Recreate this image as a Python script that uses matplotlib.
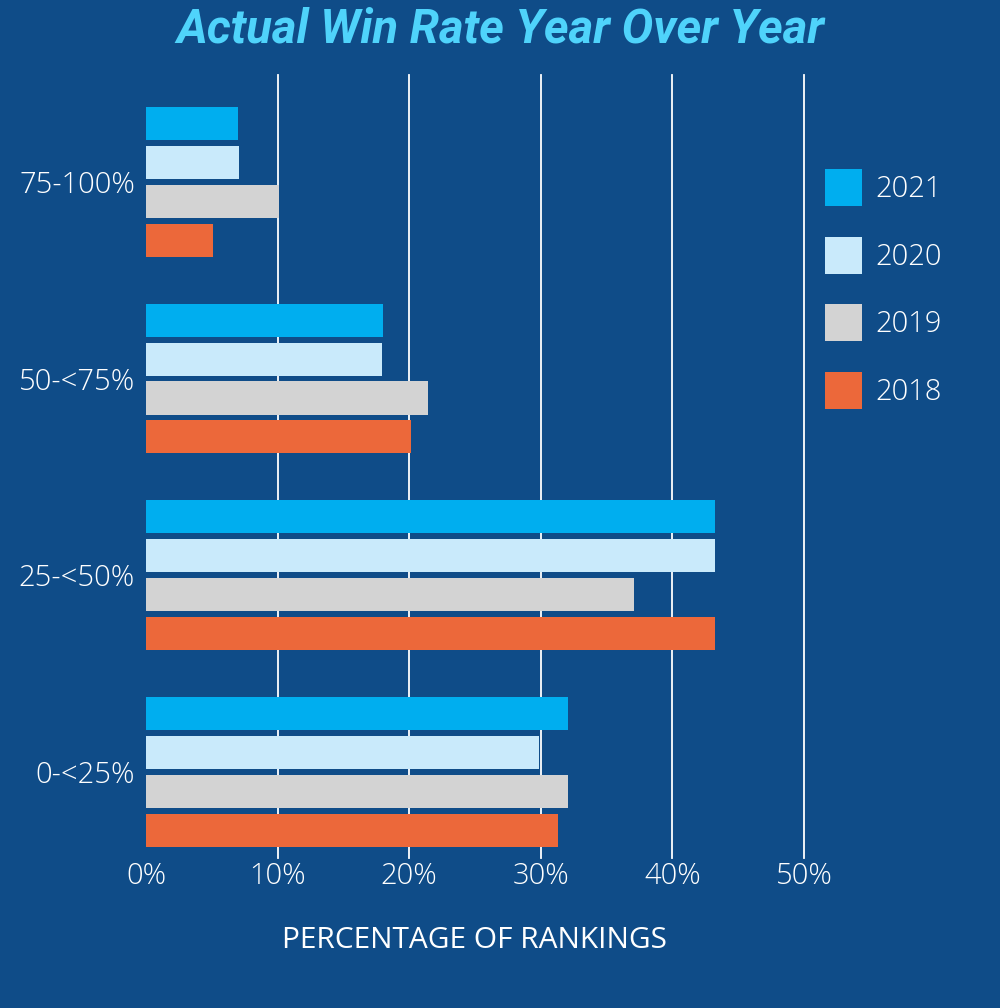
import matplotlib.pyplot as plt
from matplotlib.patches import Patch
import numpy as np

# datos
categorias = ['75-100%', '50-<75%', '25-<50%', '0-<25%']
anios = ['2021', '2020', '2019', '2018']
v_2021 = [7.0, 18.0, 43.2, 32.1]
v_2020 = [7.1, 17.9, 43.2, 29.9]
v_2019 = [10.1, 21.4, 37.1, 32.1]
v_2018 = [5.1, 20.1, 43.2, 31.3]
ticks_x = [0, 10, 20, 30, 40, 50]
ticks_x_lbl = ['0%', '10%', '20%', '30%', '40%', '50%']

fondo = '#0f4c88'
colores = ['#00aeef', '#c9eafb', '#d3d3d3', '#ec683a']

plt.rcParams['font.family'] = ['Open Sans', 'DejaVu Sans']
plt.rcParams['font.weight'] = 'light'

fig = plt.figure(figsize=(10, 10.08), dpi=100, facecolor=fondo)
ax = fig.add_axes([0.146, 0.149, 0.658, 0.7765])
ax.set_facecolor(fondo)

y = np.arange(len(categorias))
paso = 0.198
alto = 0.168
for i, (serie, col) in enumerate(zip([v_2021, v_2020, v_2019, v_2018], colores)):
    ax.barh(y + (i - 1.5) * paso, serie, height=alto, color=col, zorder=3)

ax.set_xlim(0, 50)
ax.set_ylim(3.437, -0.543)
ax.set_xticks(ticks_x)
ax.set_xticklabels(ticks_x_lbl)
ax.set_yticks(y)
ax.set_yticklabels(categorias)
for g in ticks_x[1:]:
    ax.axvline(g, color='white', lw=1.3, zorder=1, clip_on=False)

ax.tick_params(axis='both', length=0, colors='white', labelsize=21)
ax.tick_params(axis='x', pad=3)
ax.tick_params(axis='y', pad=8)
for s in ax.spines.values():
    s.set_visible(False)

ax.set_xlabel('PERCENTAGE OF RANKINGS', color='white', fontsize=21.5, labelpad=25)

fig.text(0.5, 0.971, 'Actual Win Rate Year Over Year', ha='center', va='center',
         color='#4fd3fb', fontsize=34, fontweight='bold', fontstyle='italic',
         family=['Roboto', 'DejaVu Sans'])

handles = [Patch(facecolor=c, edgecolor='none') for c in colores]
leg = fig.legend(handles, anios, loc='upper left', bbox_to_anchor=(0.825, 0.832),
                 frameon=False, fontsize=21, handlelength=1.27, handleheight=1.58,
                 labelspacing=1.04, handletextpad=0.45, borderaxespad=0,
                 borderpad=0)
for t in leg.get_texts():
    t.set_color('white')

fig.savefig('out.png', dpi=100, facecolor=fondo)
